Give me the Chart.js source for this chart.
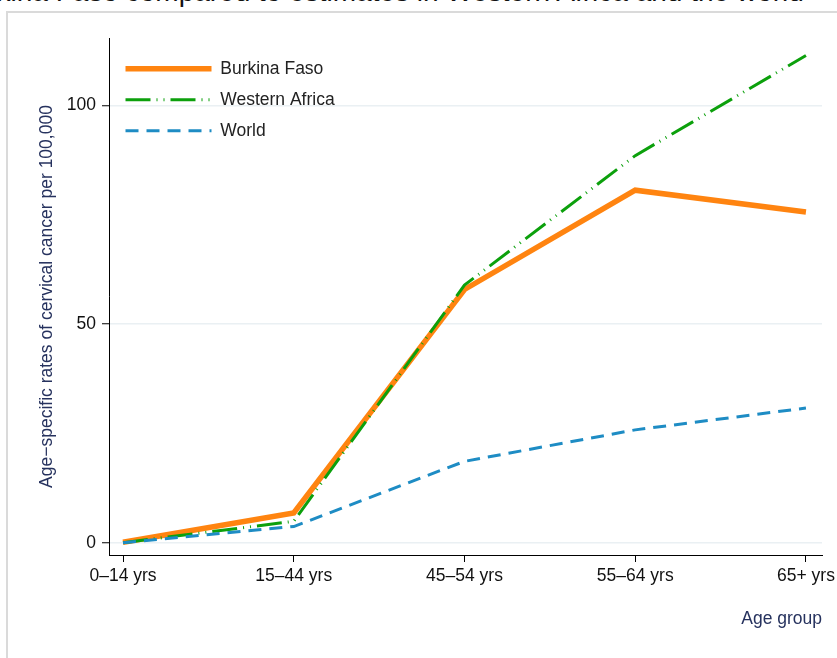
<!DOCTYPE html>
<html>
<head>
<meta charset="utf-8">
<script src="https://cdn.jsdelivr.net/npm/chart.js@4.4.0/dist/chart.umd.min.js"></script>
<style>
  html, body { margin: 0; padding: 0; background: #fff; overflow: hidden; }
  #frame { position: absolute; left: 6px; top: 11px; width: 900px; height: 700px;
           border-left: 2px solid #dadada; border-top: 2px solid #dadada; }
  #cut-title { position: absolute; left: -47px; top: -22px; font: 28px/28px 'Liberation Sans', Arial, sans-serif;
               color: #111; white-space: nowrap; }
  #myChart { position: absolute; left: 0; top: 0; }
</style>
</head>
<body>
<div id="frame"></div>
<div id="cut-title">Burkina Faso compared to estimates in Western Africa and the world</div>
<canvas id="myChart" width="837" height="658"></canvas>
<script>
var ageGroups = ["0–14 yrs", "15–44 yrs", "45–54 yrs", "55–64 yrs", "65+ yrs"];
var burkinaFaso = [0.1, 6.8, 57.9, 80.6, 75.6];
var westernAfrica = [0.0, 4.9, 58.9, 88.5, 111.4];
var world = [0.0, 3.7, 18.6, 25.8, 30.8];
var yTicks = [0, 50, 100];

const fontFam = "'Liberation Sans', Arial, sans-serif";
const navy = "#26325e";

function toPoints(values) {
  return values.map((v, i) => ({ x: i, y: v }));
}

// legend sits inside the plot, put it where stata puts it
const legendNudge = {
  id: "legendNudge",
  afterLayout(chart) {
    chart.legend.left = chart.chartArea.left + 3;
    chart.legend.top = chart.chartArea.top + 8.5;
  }
};

const chartData = {
  datasets: [
    {
      label: "Burkina Faso",
      data: toPoints(burkinaFaso),
      borderColor: "#ff8410",
      backgroundColor: "#ff8410",
      borderWidth: 5.5,
      pointRadius: 0,
      order: 3,
    },
    {
      label: "Western Africa",
      data: toPoints(westernAfrica),
      borderColor: "#0ca00c",
      backgroundColor: "#0ca00c",
      borderWidth: 3,
      borderDash: [25, 6, 1, 6, 1, 6],
      pointRadius: 0,
      order: 2,
    },
    {
      label: "World",
      data: toPoints(world),
      borderColor: "#1e8cc4",
      backgroundColor: "#1e8cc4",
      borderWidth: 3,
      borderDash: [13, 8],
      pointRadius: 0,
      order: 1,
    },
  ],
};

const config = {
  type: "line",
  data: chartData,
  plugins: [legendNudge],
  options: {
    responsive: false,
    animation: false,
    layout: { padding: { top: 38, right: 15, left: 0, bottom: 0 }, autoPadding: false },
    plugins: {
      tooltip: { enabled: false },
      legend: {
        position: "chartArea",
        align: "start",
        reverse: true,
        labels: {
          usePointStyle: true,
          pointStyle: "line",
          pointStyleWidth: 86,
          padding: 13.5,
          color: "#222",
          font: { family: fontFam, size: 17.5 },
          generateLabels: (chart) => {
            const items = Chart.defaults.plugins.legend.labels.generateLabels(chart);
            items.forEach((it) => {
              const ds = chart.data.datasets[it.datasetIndex];
              it.lineDash = ds.borderDash || [];
              it.lineWidth = ds.borderWidth;
              it.strokeStyle = ds.borderColor;
            });
            return items;
          },
        },
      },
    },
    scales: {
      x: {
        type: "linear",
        min: -0.082,
        max: 4.094,
        afterBuildTicks: (s) => { s.ticks = ageGroups.map((_, i) => ({ value: i })); },
        afterFit: (s) => { s.height = 103; s.paddingLeft = 0; s.paddingRight = 0; },
        ticks: {
          callback: (v) => ageGroups[v],
          color: "#111",
          font: { family: fontFam, size: 17.5 },
          padding: 4,
          maxRotation: 0,
          autoSkip: false,
        },
        grid: { drawOnChartArea: false, drawTicks: true, tickLength: 7, tickColor: "#000", color: "#000" },
        border: { display: true, color: "#000", width: 1 },
        title: {
          display: true,
          text: "Age group",
          align: "end",
          color: navy,
          font: { family: fontFam, size: 17.5 },
          padding: { top: 0, bottom: 28 },
        },
      },
      y: {
        min: -2.81,
        max: 115.4,
        afterBuildTicks: (s) => { s.ticks = yTicks.map((v) => ({ value: v })); },
        afterFit: (s) => { s.width = 109; s.paddingTop = 0; s.paddingBottom = 0; },
        ticks: {
          color: "#111",
          font: { family: fontFam, size: 17.5 },
          padding: 6,
        },
        grid: { color: "#eaf0f3", lineWidth: 1.5, tickLength: 7, tickColor: "#000", tickWidth: 1 },
        border: { display: true, color: "#000", width: 1 },
        title: {
          display: true,
          text: "Age−specific rates of cervical cancer per 100,000",
          color: navy,
          font: { family: fontFam, size: 17.5 },
          padding: { top: 37, bottom: 0 },
        },
      },
    },
  },
};

let myChart = new Chart(document.getElementById("myChart"), config);
</script>
</body>
</html>
